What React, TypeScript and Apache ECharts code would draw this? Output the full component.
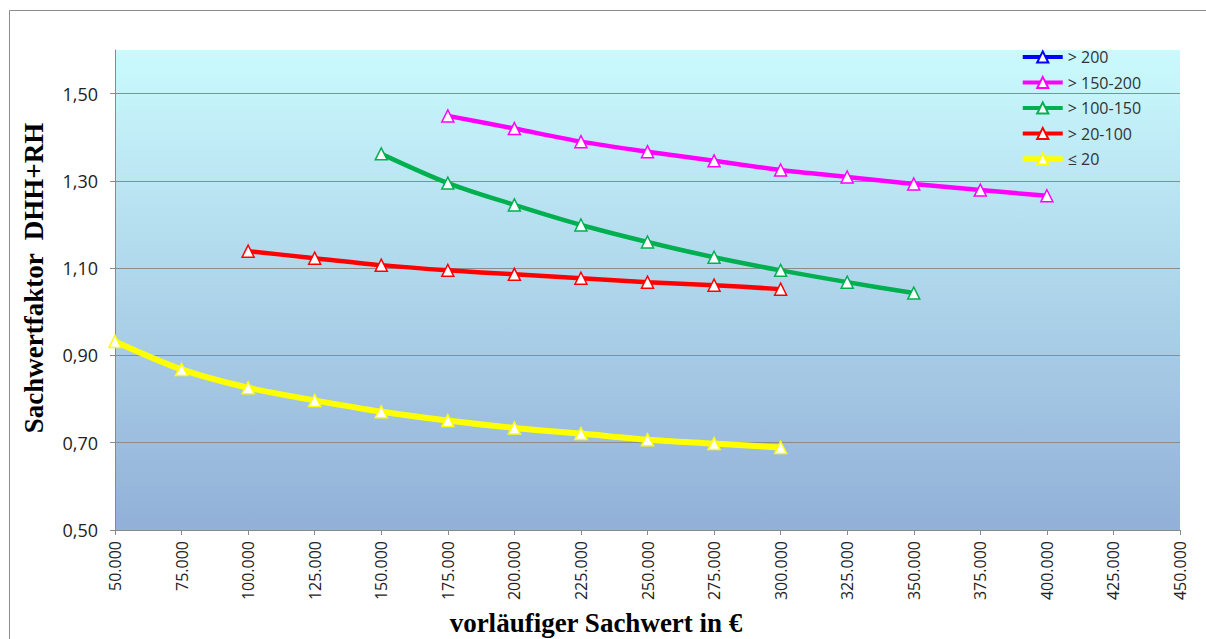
import React, { useEffect, useRef } from "react";
import * as echarts from "echarts";

// Preliminary asset value (x) in euro
const sachwert = [
  50000, 75000, 100000, 125000, 150000, 175000, 200000, 225000,
  250000, 275000, 300000, 325000, 350000, 375000, 400000,
];

// Market adjustment factor per land value class, aligned with `sachwert`
const ueber200: (number | null)[] = [];
const von150bis200 = [null, null, null, null, null, 1.449, 1.42, 1.39, 1.367, 1.346, 1.325, 1.309, 1.293, 1.279, 1.266];
const von100bis150 = [null, null, null, null, 1.362, 1.295, 1.245, 1.199, 1.16, 1.125, 1.095, 1.068, 1.043, null, null];
const von20bis100 = [null, null, 1.139, 1.123, 1.107, 1.095, 1.086, 1.077, 1.068, 1.061, 1.052, null, null, null, null];
const bis20 = [0.932, 0.868, 0.826, 0.797, 0.771, 0.751, 0.734, 0.721, 0.707, 0.698, 0.689, null, null, null, null];

const seriesNames = ["> 200", "> 150-200", "> 100-150", "> 20-100", "≤ 20"];
const seriesColors = ["#0000FF", "#FF00FF", "#00B050", "#FF0000", "#FFFF00"];
const seriesValues = [ueber200, von150bis200, von100bis150, von20bis100, bis20];

const xTitle = "vorläufiger Sachwert in €";
const yTitle = "Sachwertfaktor  DHH+RH";

const toPairs = (vals: (number | null)[]) =>
  sachwert
    .map((x, i) => [x, vals[i]] as [number, number | null])
    .filter((p) => p[1] != null && p[1] !== undefined);

const thousands = (v: number) =>
  String(Math.round(v)).replace(/\B(?=(\d{3})+(?!\d))/g, ".");

export default function App() {
  const ref = useRef<HTMLDivElement>(null);

  useEffect(() => {
    document.body.style.margin = "0";
    if (!ref.current) return;
    const chart = echarts.init(ref.current, undefined, { renderer: "svg" });

    const labelFont = "'Open Sans', 'Noto Sans', sans-serif";
    const titleFont = "'Liberation Serif', 'DejaVu Serif', serif";
    const lineWidth = (i: number) => (i === 4 ? 6 : 4.5);

    chart.setOption({
      animation: false,
      backgroundColor: "#ffffff",
      grid: {
        left: 115,
        right: 26,
        top: 50,
        bottom: 109,
        show: true,
        borderWidth: 0,
        backgroundColor: new echarts.graphic.LinearGradient(0, 0, 0, 1, [
          { offset: 0, color: "#CAFAFD" },
          { offset: 1, color: "#92B0D8" },
        ]),
      },
      legend: {
        orient: "vertical",
        left: 1020,
        top: 49,
        padding: 0,
        itemWidth: 40,
        itemHeight: 14,
        itemGap: 9.5,
        data: seriesNames.map((name, i) => ({
          name,
          lineStyle: { width: lineWidth(i) - 0.5 },
        })),
        textStyle: { fontFamily: labelFont, fontSize: 16, color: "#333" },
      },
      xAxis: {
        type: "value",
        min: 50000,
        max: 450000,
        interval: 25000,
        axisLine: { show: true, lineStyle: { color: "#8a8a8a", width: 1 } },
        axisTick: { show: true, length: 5, lineStyle: { color: "#8a8a8a" } },
        splitLine: { show: false },
        axisLabel: {
          rotate: 90,
          margin: 11,
          fontFamily: labelFont,
          fontSize: 16,
          color: "#222",
          formatter: (v: number) => thousands(v),
        },
      },
      yAxis: {
        type: "value",
        min: 0.5,
        max: 1.6,
        interval: 0.2,
        axisLine: { show: true, lineStyle: { color: "#8a8a8a", width: 1 } },
        axisTick: { show: true, length: 5, lineStyle: { color: "#8a8a8a" } },
        splitLine: {
          show: true,
          showMinLine: false,
          showMaxLine: false,
          lineStyle: { color: "#8c8c8c", width: 1 },
        },
        axisLabel: {
          margin: 17,
          fontFamily: labelFont,
          fontSize: 18,
          color: "#222",
          showMaxLabel: false,
          formatter: (v: number) =>
            Math.abs(v - 1.6) < 1e-6 ? "" : v.toFixed(2).replace(".", ","),
        },
      },
      graphic: [
        {
          type: "rect",
          silent: true,
          shape: { x: 9.5, y: 10.5, width: 1300, height: 700 },
          style: { fill: "none", stroke: "#8c8c8c", lineWidth: 1 },
        },
        {
          type: "text",
          x: 34,
          y: 278,
          rotation: Math.PI / 2,
          style: {
            text: yTitle,
            fontFamily: titleFont,
            fontWeight: "bold",
            fontSize: 27,
            fill: "#000",
            align: "center",
            verticalAlign: "middle",
          },
        },
        {
          type: "text",
          x: 596,
          y: 623,
          style: {
            text: xTitle,
            fontFamily: titleFont,
            fontWeight: "bold",
            fontSize: 27,
            fill: "#000",
            align: "center",
            verticalAlign: "middle",
          },
        },
      ],
      series: seriesNames.map((name, i) => ({
        name,
        type: "line",
        smooth: 0.3,
        symbol: "triangle",
        symbolSize: 12,
        showAllSymbol: true,
        data: toPairs(seriesValues[i]),
        lineStyle: { color: seriesColors[i], width: lineWidth(i) },
        itemStyle: {
          color: "#ffffff",
          borderColor: seriesColors[i],
          borderWidth: 1.5,
        },
        emphasis: { disabled: true },
        z: 2 + i,
      })),
    });

    return () => chart.dispose();
  }, []);

  return <div ref={ref} style={{ width: 1206, height: 639 }} />;
}
